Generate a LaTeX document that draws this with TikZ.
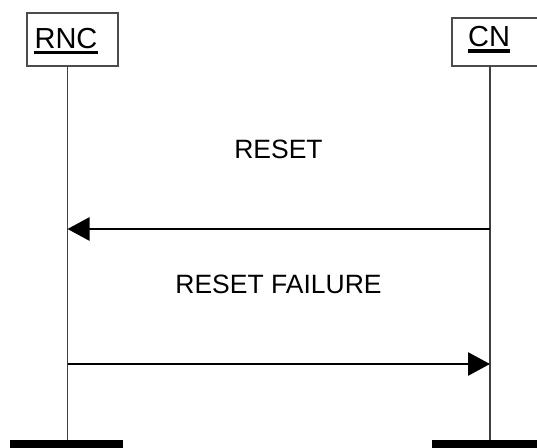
\documentclass[tikz,border=0pt]{standalone}
\usepackage{fontspec}
\setmainfont{Liberation Sans}
\usetikzlibrary{arrows.meta}
\begin{document}
\begin{tikzpicture}[x=1pt,y=-1pt,
  entity/.style={draw=black!70, line width=1.1pt, fill=white, inner sep=0pt},
  ename/.style={font=\fontsize{29}{30}\selectfont, inner sep=0pt, anchor=base},
  lifeline/.style={draw=black!75, line width=1.5pt},
  endbar/.style={fill=black, draw=none, inner sep=0pt, minimum height=12pt},
  msg/.style={line width=2.8pt, -{Triangle[length=22pt,width=23pt]}},
  msglabel/.style={font=\fontsize{26.5}{28}\selectfont, inner sep=0pt, anchor=base}]
\useasboundingbox (0,0) rectangle (537,447);
\fill[white] (0,0) rectangle (537,447);
% entity boxes
\node[entity, minimum width=91pt, minimum height=53pt] (rncbox) at (72.5,39.5) {};
\node[entity, minimum width=89pt, minimum height=48pt] (cnbox) at (496.5,42) {};
\node[ename] (rnc) at (66,48) {RNC};
\node[ename] (cn) at (489,46.5) {CN};
\draw[line width=3.2pt] ([yshift=-4.5pt]rnc.base west) -- ([yshift=-4.5pt]rnc.base east);
\draw[line width=3.2pt] ([yshift=-4.5pt]cn.base west) -- ([yshift=-4.5pt]cn.base east);
% end bars
\node[endbar, minimum width=113.5pt] (rncend) at (66.5,446) {};
\node[endbar, minimum width=116pt] (cnend) at (490,446) {};
% lifelines
\coordinate (rtop) at (67.5,66);
\coordinate (rbot) at (67.5,440);
\coordinate (ctop) at (490,66);
\coordinate (cbot) at (490,440);
\draw[lifeline] (rtop) -- (rbot);
\draw[lifeline] (ctop) -- (cbot);
% messages
\coordinate (m1s) at (490,229);
\coordinate (m1e) at (67.5,229);
\coordinate (m2s) at (67.5,364);
\coordinate (m2e) at (490,364);
\draw[msg] (m1s) -- (m1e);
\draw[msg] (m2s) -- (m2e);
\node[msglabel] (l1) at (278.5,158) {RESET};
\node[msglabel] (l2) at (278.5,293) {RESET FAILURE};
\end{tikzpicture}
\end{document}
